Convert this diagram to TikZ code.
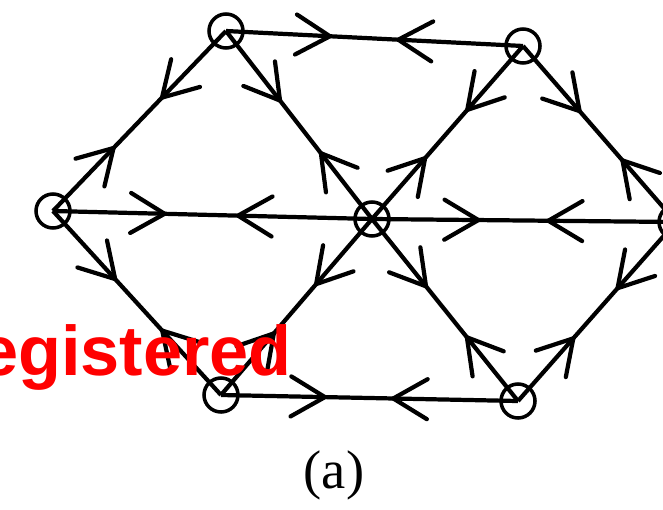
\documentclass[tikz,border=0pt]{standalone}
\usepackage{fontspec}
\setmainfont{Liberation Serif}
\newfontfamily\wmfont{Liberation Sans}
\usetikzlibrary{decorations.markings}
\tikzset{
  vtx/.style  ={draw,circle,line width=2pt,minimum size=6.8mm,inner sep=0pt},
  chev/.style ={line width=2.4pt,line cap=round,line join=round},
  pair/.style 2 args={postaction={decorate},decoration={markings,
      mark=at position #1 with {\draw[chev] (-.68,.4) -- (0,0) -- (-.68,-.4);},
      mark=at position #2 with {\draw[chev] (.68,.4) -- (0,0) -- (.68,-.4);}}},
  hbond/.style={line width=2.4pt,pair={.35}{.58}},
  dbond/.style={line width=2.4pt,pair={.37}{.65}},
  wm/.style   ={font=\wmfont\bfseries\fontsize{40}{41}\selectfont,text=red,inner sep=0pt},
  captxt/.style={font=\fontsize{31}{34}\selectfont,inner sep=0pt},
}
\begin{document}
\begin{tikzpicture}

  \useasboundingbox (0,0) rectangle (13.26,10.18);

  % ---------- vertices ----------
  \node[vtx] (tl) at (4.52,9.56) {};
  \node[vtx] (tr) at (10.46,9.26) {};
  \node[vtx] (l)  at (1.06,5.96) {};
  \node[vtx] (c)  at (7.44,5.80) {};
  \node[vtx] (r)  at (13.52,5.74) {};
  \node[vtx] (bl) at (4.42,2.28) {};
  \node[vtx] (br) at (10.36,2.16) {};

  % ---------- horizontal bonds ----------
  \draw[hbond] (tl.center) -- (tr.center);
  \draw[hbond] (l.center)  -- (c.center);
  \draw[hbond] (c.center)  -- (r.center);
  \draw[hbond] (bl.center) -- (br.center);

  % ---------- slanted bonds ----------
  \draw[dbond] (tl.center) -- (l.center);
  \draw[dbond] (tl.center) -- (c.center);
  \draw[dbond] (tr.center) -- (c.center);
  \draw[dbond] (tr.center) -- (r.center);
  \draw[dbond] (l.center)  -- (bl.center);
  \draw[dbond] (c.center)  -- (bl.center);
  \draw[dbond] (c.center)  -- (br.center);
  \draw[dbond] (r.center)  -- (br.center);

  % ---------- caption ----------
  \node[captxt] (lab) at (6.68,0.68) {(a)};

  \node[wm,anchor=base east] (mark) at (5.84,2.68) {egistered};

\end{tikzpicture}
\end{document}
